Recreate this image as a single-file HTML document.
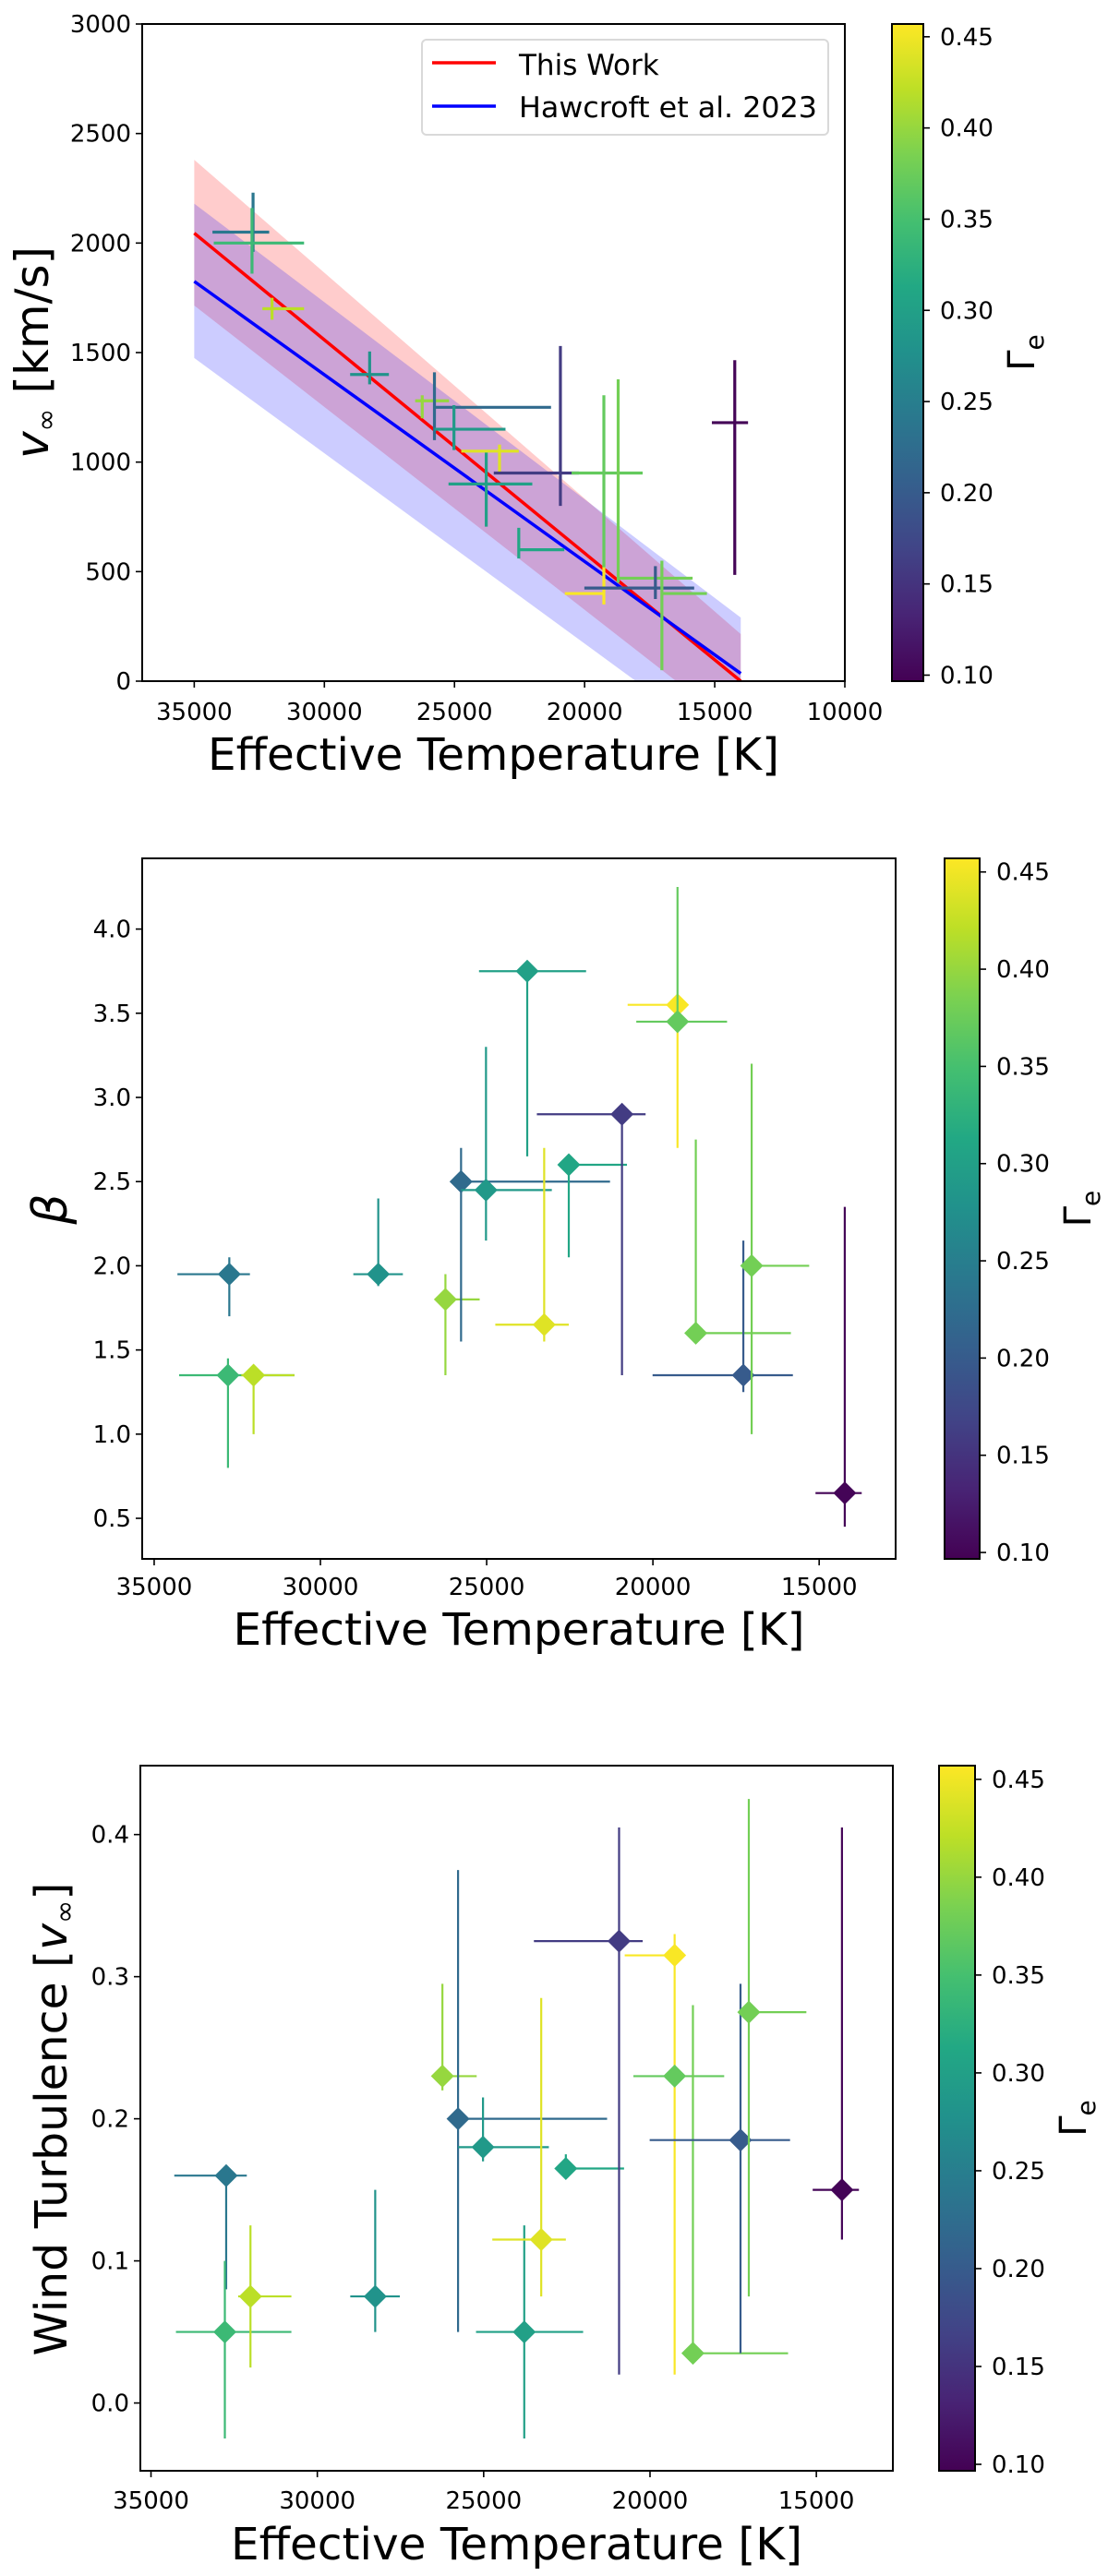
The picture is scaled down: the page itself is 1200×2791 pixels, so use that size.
<!DOCTYPE html>
<html><head><meta charset="utf-8"><style>
html,body{margin:0;padding:0;background:#fff;}
svg{display:block;font-family:"DejaVu Sans","Liberation Sans",sans-serif;}
</style></head><body>
<svg id="fig" width="1200" height="2791" viewBox="0 0 1200 2791" xmlns="http://www.w3.org/2000/svg">
<defs>
<linearGradient id="vir" x1="0" y1="1" x2="0" y2="0">
<stop offset="0" stop-color="#440154"/><stop offset="0.1" stop-color="#482475"/><stop offset="0.2" stop-color="#414487"/><stop offset="0.3" stop-color="#355f8d"/><stop offset="0.4" stop-color="#2a788e"/><stop offset="0.5" stop-color="#21918c"/><stop offset="0.6" stop-color="#22a884"/><stop offset="0.7" stop-color="#44bf70"/><stop offset="0.8" stop-color="#7ad151"/><stop offset="0.9" stop-color="#bddf26"/><stop offset="1" stop-color="#fde725"/>
</linearGradient>
</defs>
</svg>
<script>
// ---- data ----
const teff      = [32740,32780,32010,28260,26240,25770,25020,23780,23270,22530,20930,19260,19260,18710,17280,17030,14230];
const teffErrLo = [1560,1470,370,750,270,0,750,1450,1470,0,2560,1500,1240,0,2730,0,880];
const teffErrHi = [620,2000,1230,740,1030,4480,1980,1770,740,1750,710,0,1490,2860,1490,1730,510];
const gammaE    = [0.24,0.34,0.42,0.28,0.40,0.22,0.29,0.30,0.44,0.31,0.16,0.455,0.37,0.38,0.20,0.38,0.10];
const vinf      = [2050,2000,1700,1400,1280,1250,1150,900,1050,600,950,400,950,470,425,400,1180];
const vinfLo    = [90,140,50,45,80,150,95,195,95,40,150,50,430,20,50,350,695];
const vinfHi    = [180,160,50,105,25,160,110,155,30,100,580,200,355,908,100,150,285];
const beta      = [1.95,1.35,1.35,1.95,1.80,2.50,2.45,3.75,1.65,2.60,2.90,3.55,3.45,1.60,1.35,2.00,0.65];
const betaLo    = [0.25,0.55,0.35,0.07,0.45,0.95,0.30,1.10,0.10,0.55,1.55,0.85,0,0,0.10,1.00,0.20];
const betaHi    = [0.10,0.10,0,0.45,0.15,0.20,0.85,0,1.05,0,0,0,0.80,1.15,0.80,1.20,1.70];
const turb      = [0.160,0.050,0.075,0.075,0.230,0.200,0.180,0.050,0.115,0.165,0.325,0.315,0.230,0.035,0.185,0.275,0.150];
const turbLo    = [0.080,0.075,0.050,0.025,0.010,0.150,0.010,0.075,0.040,0.007,0.305,0.295,0,0,0.150,0.200,0.035];
const turbHi    = [0.007,0.050,0.050,0.075,0.065,0.175,0.035,0.075,0.170,0.010,0.080,0.015,0,0.245,0.110,0.150,0.255];
const fitT      = [35000,14000];
const redFit    = [2045,0];
const redUpper  = [2380,215];
const redLower  = [1715,-230];
const blueFit   = [1825,35];
const blueUpper = [2180,290];
const blueLower = [1475,-350];
const xTicks12  = [35000,30000,25000,20000,15000,10000];
const xTicks23  = [35000,30000,25000,20000,15000];
const vTicks    = [0,500,1000,1500,2000,2500,3000];
const bTicks    = [0.5,1.0,1.5,2.0,2.5,3.0,3.5,4.0];
const tTicks    = [0.0,0.1,0.2,0.3,0.4];
const cTicks    = [0.10,0.15,0.20,0.25,0.30,0.35,0.40,0.45];
const cMin = 0.0967, cMax = 0.457;

const NS="http://www.w3.org/2000/svg";
const svg=document.getElementById('fig');
function mk(tag,attrs,parent){const e=document.createElementNS(NS,tag);for(const k in attrs)e.setAttribute(k,attrs[k]);(parent||svg).appendChild(e);return e;}
const stops=[[68,1,84],[72,36,117],[65,68,135],[53,95,141],[42,120,142],[33,145,140],[34,168,132],[68,191,112],[122,209,81],[189,223,38],[253,231,37]];
function viridis(v){let t=(v-cMin)/(cMax-cMin);t=Math.max(0,Math.min(1,t))*10;const i=Math.min(9,Math.floor(t)),f=t-i;const a=stops[i],b=stops[i+1];return `rgb(${Math.round(a[0]+(b[0]-a[0])*f)},${Math.round(a[1]+(b[1]-a[1])*f)},${Math.round(a[2]+(b[2]-a[2])*f)})`;}

function panel(p){
  const g=mk('g',{});
  
  
  const X=t=>p.L+(p.x0-t)/(p.x0-p.x1)*(p.R-p.L);
  const Y=v=>p.B-(v-p.y0)/(p.y1-p.y0)*(p.B-p.T);
  const clip='clip-'+p.name;
  const cp=mk('clipPath',{id:clip},g);mk('rect',{x:p.L,y:p.T,width:p.R-p.L,height:p.B-p.T},cp);
  const plot=mk('g',{'clip-path':`url(#${clip})`},g);
  if(p.draw) p.draw(plot,X,Y);
  for(let i=0;i<teff.length;i++){
    const c=viridis(gammaE[i]);const val=p.vals[i];
    const eb=mk('g',{},plot);
    
    
    mk('line',{x1:X(teff[i]+teffErrLo[i]),x2:X(teff[i]-teffErrHi[i]),y1:Y(val),y2:Y(val),stroke:c,'stroke-width':p.lw},eb);
    mk('line',{x1:X(teff[i]),x2:X(teff[i]),y1:Y(val-p.lo[i]),y2:Y(val+p.hi[i]),stroke:c,'stroke-width':p.lw},eb);
    if(p.marker){
      const cx=X(teff[i]),cy=Y(val),s=12.5;
      const m=mk('polygon',{points:`${cx},${cy-s} ${cx+s},${cy} ${cx},${cy+s} ${cx-s},${cy}`,fill:c},plot);
      
      
    }
  }
  mk('rect',{x:p.L,y:p.T,width:p.R-p.L,height:p.B-p.T,fill:'none',stroke:'#000','stroke-width':2},g);
  p.xt.forEach(t=>{const x=X(t);mk('line',{x1:x,x2:x,y1:p.B,y2:p.B+7,stroke:'#000','stroke-width':1.6},g);
    const tx=mk('text',{x:x,y:p.xtY,'font-size':26,'text-anchor':'middle'},g);tx.textContent=t;
    
    });
  p.yt.forEach(t=>{const y=Y(t);mk('line',{x1:p.L-7,x2:p.L,y1:y,y2:y,stroke:'#000','stroke-width':1.6},g);
    const tx=mk('text',{x:p.L-12,y:y+9,'font-size':26,'text-anchor':'end'},g);tx.textContent=p.yfmt(t);
    
    });
  const xl=mk('text',{x:(p.L+p.R)/2,y:p.xlY,'font-size':48,'text-anchor':'middle',textLength:619,lengthAdjust:'spacingAndGlyphs'},g);
  xl.textContent='Effective Temperature [K]';
  
  
  const cb=mk('g',{},g);
  
  
  mk('rect',{x:p.cL,y:p.T,width:p.cR-p.cL,height:p.B-p.T,fill:'url(#vir)',stroke:'#000','stroke-width':2},cb);
  const CY=v=>p.B-(v-cMin)/(cMax-cMin)*(p.B-p.T);
  cTicks.forEach(t=>{const y=CY(t);mk('line',{x1:p.cR,x2:p.cR+7,y1:y,y2:y,stroke:'#000','stroke-width':1.6},cb);
    const tx=mk('text',{x:p.cR+18,y:y+9,'font-size':26},cb);tx.textContent=t.toFixed(2);
    
    });
  const cl=mk('text',{transform:`translate(${p.cR+120},${(p.T+p.B)/2}) rotate(-90)`,'font-size':40,'text-anchor':'middle'},cb);
  cl.innerHTML='Γ<tspan font-size="28" dy="10">e</tspan>';
  
  
  return {g,X,Y};
}

const p1=panel({name:'vinf-panel',L:154,R:915,T:26,B:738,x0:37000,x1:10000,y0:0,y1:3000,
  vals:vinf,lo:vinfLo,hi:vinfHi,lw:3.2,marker:false,xt:xTicks12,yt:vTicks,yfmt:t=>t,xtY:780,xlY:834,cL:966,cR:1000,
  draw:(pl,X,Y)=>{
    const band=(u,l,col,nm)=>{const b=mk('polygon',{points:`${X(fitT[0])},${Y(u[0])} ${X(fitT[1])},${Y(u[1])} ${X(fitT[1])},${Y(l[1])} ${X(fitT[0])},${Y(l[0])}`,fill:col,'fill-opacity':0.2},pl);
      
      };
    band(redUpper,redLower,'#ff0000','this-work-band');
    band(blueUpper,blueLower,'#0000ff','hawcroft-band');
    const l1=mk('line',{x1:X(fitT[0]),y1:Y(redFit[0]),x2:X(fitT[1]),y2:Y(redFit[1]),stroke:'#ff0000','stroke-width':3.5},pl);
    
    
    const l2=mk('line',{x1:X(fitT[0]),y1:Y(blueFit[0]),x2:X(fitT[1]),y2:Y(blueFit[1]),stroke:'#0000ff','stroke-width':3.5},pl);
    
    
  }});
const yl1=mk('text',{transform:'translate(52,382) rotate(-90)','font-size':50,'text-anchor':'middle'});
yl1.innerHTML='<tspan font-style="italic">v</tspan><tspan font-size="30" dy="8">∞</tspan><tspan dy="-8"> [km/s]</tspan>';


const lg=mk('g',{});


mk('rect',{x:457,y:43,width:440,height:103,rx:5,fill:'#fff','fill-opacity':0.8,stroke:'#d9d9d9','stroke-width':2},lg);
mk('line',{x1:468,x2:537,y1:68,y2:68,stroke:'#ff0000','stroke-width':3.5},lg);
mk('line',{x1:468,x2:537,y1:115,y2:115,stroke:'#0000ff','stroke-width':3.5},lg);
const le1=mk('text',{x:562,y:81,'font-size':31},lg);le1.textContent='This Work';


const le2=mk('text',{x:562,y:127,'font-size':31,textLength:323,lengthAdjust:'spacingAndGlyphs'},lg);le2.textContent='Hawcroft et al. 2023';



panel({name:'beta-panel',L:154,R:970,T:930,B:1689,x0:35360,x1:12700,y0:0.259,y1:4.42,
  vals:beta,lo:betaLo,hi:betaHi,lw:2.2,marker:true,xt:xTicks23,yt:bTicks,yfmt:t=>t.toFixed(1),xtY:1728,xlY:1782,cL:1023,cR:1061});
const yl2=mk('text',{transform:'translate(72,1310) rotate(-90)','font-size':52,'font-style':'italic','text-anchor':'middle'});
yl2.textContent='β';



panel({name:'turbulence-panel',L:152,R:967,T:1913,B:2677,x0:35320,x1:12700,y0:-0.0477,y1:0.4485,
  vals:turb,lo:turbLo,hi:turbHi,lw:2.2,marker:true,xt:xTicks23,yt:tTicks,yfmt:t=>t.toFixed(1),xtY:2718,xlY:2773,cL:1017,cR:1056});
const yl3=mk('text',{transform:'translate(72,2296) rotate(-90)','font-size':48,'text-anchor':'middle',textLength:513,lengthAdjust:'spacingAndGlyphs'});
yl3.innerHTML='Wind Turbulence [<tspan font-style="italic">v</tspan><tspan font-size="30" dy="8">∞</tspan><tspan dy="-8">]</tspan>';


</script>
</body></html>
